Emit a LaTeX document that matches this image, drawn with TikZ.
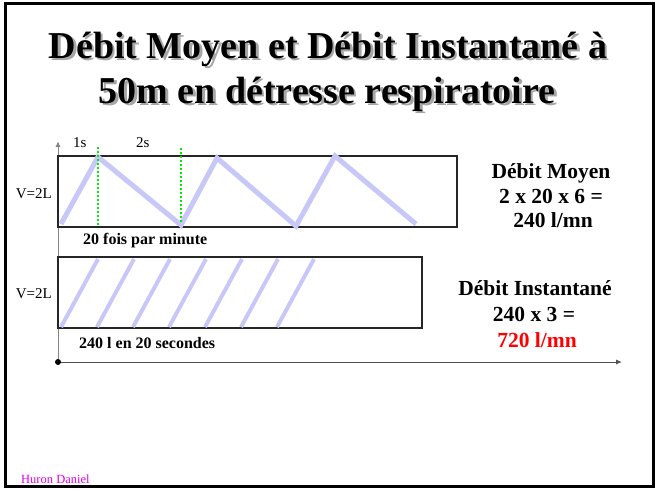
\documentclass[tikz,border=0pt]{standalone}
\usepackage{fontspec}
\setmainfont{Liberation Serif}
\usetikzlibrary{arrows.meta}
\definecolor{lav}{RGB}{200,200,248}
\definecolor{grn}{RGB}{0,235,0}
\definecolor{hur}{RGB}{225,0,225}
\definecolor{axisc}{RGB}{80,80,80}
\tikzset{
  titletext/.style={font=\fontsize{38}{45}\selectfont\bfseries, anchor=base, inner sep=0pt},
  sidetext/.style={font=\fontsize{21.5}{25}\selectfont\bfseries, anchor=base, inner sep=0pt},
  smalltext/.style={font=\fontsize{15}{17}\selectfont, inner sep=0pt},
  boldlabel/.style={font=\fontsize{16}{19}\selectfont\bfseries, anchor=base west, inner sep=0pt},
  box/.style={draw=black!85, line width=1.2pt},
  wave/.style={lav, line width=5pt},
  marker/.style={grn, line width=2pt, dotted},
  axis/.style={axisc, line width=1pt, -{Latex[length=6pt,width=5pt]}}
}
\begin{document}
\begin{tikzpicture}[x=1pt,y=-1pt]
\useasboundingbox (0,0) rectangle (655,488);
% outer frame
\draw[line width=3pt] (5,3) rectangle (653,486.5);
% title with shadow
\node[titletext, gray!70] (t1s) at (330.5,60.5) {Débit Moyen et Débit Instantané à};
\node[titletext, gray!70] (t2s) at (329.5,105.5) {50m en détresse respiratoire};
\node[titletext] (t1) at (328,58) {Débit Moyen et Débit Instantané à};
\node[titletext] (t2) at (327,103) {50m en détresse respiratoire};
% axes
\coordinate (O) at (58,362);
\coordinate (ytop) at (58,141);
\coordinate (xend) at (622,362);
\draw[axis, axisc!70] (O) -- (ytop);
\draw[axis] (O) -- (xend);
\fill[black] (O) circle (3pt);
% boxes
\draw[box] (58,156) rectangle (457,227);
\draw[box] (58,257) rectangle (422,328);
% zigzag
\draw[wave, line join=miter] (61,224) -- (98,157) -- (181,225) -- (217,158) -- (296,226) -- (335,156) -- (416,224);
% diagonals
\foreach \k in {0,...,6} {
  \draw[wave, line width=4pt] ({61+36*\k},327) -- ({98+36*\k},259);
}
% green markers
\draw[marker] (98,147) -- (98,226);
\draw[marker] (181,148) -- (181,222);
% small labels
\node[smalltext, anchor=base west] (l1s) at (73,147) {1s};
\node[smalltext, anchor=base west] (l2s) at (136,147) {2s};
\node[smalltext, anchor=base east] (v1) at (52,198) {V=2L};
\node[smalltext, anchor=base east] (v2) at (52,298) {V=2L};
\node[boldlabel] (fois) at (83,244) {20 fois par minute};
\node[boldlabel] (sec) at (79,348) {240 l en 20 secondes};
% right texts
\node[sidetext] (dm1) at (551,178) {Débit Moyen};
\node[sidetext] (dm2) at (551,203) {2 x 20 x 6 =};
\node[sidetext] (dm3) at (553,227) {240 l/mn};
\node[sidetext] (di1) at (535,295) {Débit Instantané};
\node[sidetext] (di2) at (534,321) {240 x 3 =};
\node[sidetext, red] (di3) at (537,347) {720 l/mn};
% footer
\node[smalltext, hur, anchor=base west, font=\fontsize{12.5}{14}\selectfont] (hd) at (21,483) {Huron Daniel};
\end{tikzpicture}
\end{document}
